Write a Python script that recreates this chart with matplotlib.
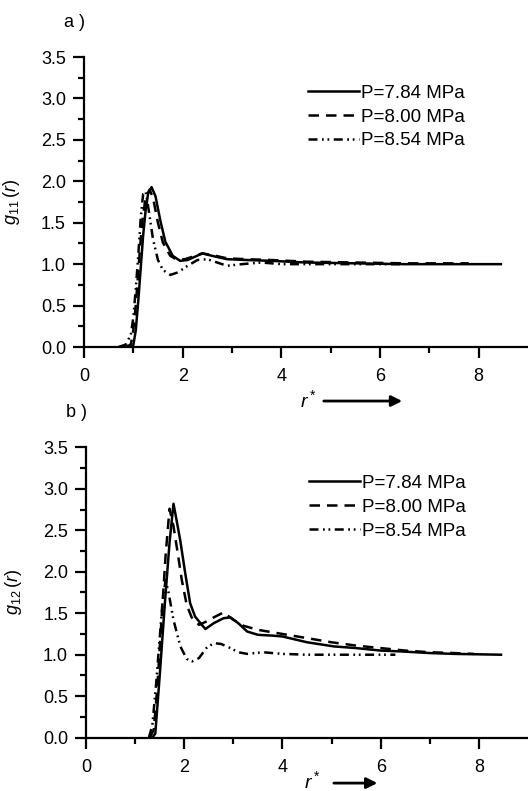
import matplotlib
matplotlib.use('Agg')
import matplotlib.pyplot as plt

plt.rcParams['font.family'] = ['Liberation Sans', 'DejaVu Sans']
plt.rcParams['mathtext.fontset'] = 'custom'
plt.rcParams['mathtext.rm'] = 'Liberation Sans'
plt.rcParams['mathtext.it'] = 'Liberation Sans:italic'

labels = ['P=7.84 MPa', 'P=8.00 MPa', 'P=8.54 MPa']

# panel a : g11(r)
r_a_784 = [0.95, 1.0, 1.05, 1.1, 1.15, 1.2, 1.25, 1.3, 1.37, 1.45, 1.55, 1.65, 1.8, 1.95, 2.1, 2.25,
           2.4, 2.6, 2.9, 3.3, 3.8, 4.5, 5.5, 6.5, 7.5, 8.45]
g_a_784 = [0.0, 0.02, 0.2, 0.55, 0.95, 1.35, 1.65, 1.85, 1.93, 1.82, 1.52, 1.27, 1.1, 1.04, 1.05, 1.09,
           1.13, 1.1, 1.06, 1.05, 1.04, 1.02, 1.01, 1.0, 1.0, 1.0]
r_a_800 = [0.85, 0.95, 1.0, 1.05, 1.1, 1.15, 1.2, 1.25, 1.33, 1.4, 1.5, 1.6, 1.75, 1.9, 2.05, 2.2,
           2.4, 2.6, 2.9, 3.3, 3.8, 4.5, 5.5, 6.5, 7.8]
g_a_800 = [0.0, 0.03, 0.2, 0.5, 0.9, 1.3, 1.6, 1.8, 1.9, 1.8, 1.5, 1.26, 1.1, 1.05, 1.06, 1.09,
           1.13, 1.11, 1.07, 1.06, 1.05, 1.03, 1.02, 1.01, 1.01]
r_a_854 = [0.7, 0.85, 0.95, 1.0, 1.05, 1.1, 1.15, 1.2, 1.25, 1.3, 1.4, 1.5, 1.6, 1.75, 1.9, 2.1,
           2.3, 2.5, 2.7, 2.9, 3.2, 3.6, 4.0, 5.0, 6.0, 6.5]
g_a_854 = [0.0, 0.03, 0.15, 0.35, 0.7, 1.1, 1.55, 1.85, 1.88, 1.7, 1.3, 1.05, 0.93, 0.87, 0.9, 0.98,
           1.05, 1.06, 1.02, 0.98, 1.0, 1.02, 1.0, 1.0, 1.0, 1.0]

# panel b : g12(r)
r_b_784 = [1.35, 1.41, 1.5, 1.61, 1.7, 1.78, 1.85, 1.92, 2.02, 2.12, 2.22, 2.33, 2.43, 2.6, 2.8,
           2.94, 3.1, 3.28, 3.5, 3.8, 4.0, 4.5, 5.05, 5.5, 6.0, 6.4, 7.0, 7.5, 8.45]
g_b_784 = [0.0, 0.05, 0.75, 1.66, 2.35, 2.82, 2.6, 2.37, 1.98, 1.62, 1.46, 1.38, 1.31, 1.38, 1.44,
           1.45, 1.38, 1.28, 1.24, 1.23, 1.22, 1.15, 1.1, 1.08, 1.05, 1.04, 1.02, 1.01, 1.0]
r_b_800 = [1.3, 1.38, 1.45, 1.55, 1.62, 1.7, 1.78, 1.86, 1.95, 2.05, 2.15, 2.3, 2.45, 2.6, 2.8,
           3.0, 3.2, 3.5, 3.8, 4.0, 4.5, 5.0, 5.5, 6.0, 6.5, 7.0, 7.5, 7.9]
g_b_800 = [0.0, 0.1, 0.6, 1.55, 2.2, 2.76, 2.55, 2.25, 1.9, 1.6, 1.45, 1.36, 1.4, 1.45, 1.51,
           1.42, 1.35, 1.3, 1.27, 1.25, 1.2, 1.15, 1.11, 1.08, 1.05, 1.03, 1.02, 1.01]
r_b_854 = [1.28, 1.35, 1.42, 1.5, 1.56, 1.62, 1.68, 1.78, 1.92, 2.05, 2.16, 2.3, 2.45, 2.6, 2.75,
           2.94, 3.1, 3.28, 3.6, 4.0, 4.5, 5.0, 5.5, 6.0, 6.3]
g_b_854 = [0.0, 0.15, 0.6, 1.2, 1.65, 1.9, 1.75, 1.42, 1.1, 0.95, 0.92, 0.96, 1.08, 1.14, 1.13,
           1.08, 1.03, 1.01, 1.03, 1.01, 1.0, 1.0, 1.0, 1.0, 1.0]

styles = ['-', (0, (4.2, 2.8)), (0, (3.6, 1.8, 0.7, 1.5, 0.7, 1.8))]

fig = plt.figure(figsize=(5.28, 7.91), dpi=100)
ax_a = fig.add_axes([0.159, 0.5613, 0.841, 0.3666])
ax_b = fig.add_axes([0.163, 0.0674, 0.837, 0.3671])

panels = [
	(ax_a, [(r_a_784, g_a_784), (r_a_800, g_a_800), (r_a_854, g_a_854)], r'$g_{\mathrm{11}}\,(r)$'),
	(ax_b, [(r_b_784, g_b_784), (r_b_800, g_b_800), (r_b_854, g_b_854)], r'$g_{\mathrm{12}}\,(r)$'),
]

for ax, series, ylab in panels:
	for (r, g), ls, lab in zip(series, styles, labels):
		ax.plot(r, g, color='black', lw=1.8, linestyle=ls, label=lab)
	ax.set_xlim(0, 9)
	ax.set_ylim(0, 3.5)
	ax.set_xticks([0, 2, 4, 6, 8])
	ax.set_xticks([1, 3, 5, 7], minor=True)
	ax.set_yticks([0, 0.5, 1.0, 1.5, 2.0, 2.5, 3.0, 3.5])
	ax.set_yticklabels(['0.0', '0.5', '1.0', '1.5', '2.0', '2.5', '3.0', '3.5'])
	ax.set_yticks([0.25, 0.75, 1.25, 1.75, 2.25, 2.75, 3.25], minor=True)
	ax.spines['top'].set_visible(False)
	ax.spines['right'].set_visible(False)
	ax.spines['left'].set_linewidth(1.6)
	ax.spines['bottom'].set_linewidth(1.6)
	ax.tick_params(which='major', direction='out', length=8, width=1.6, labelsize=13, pad=5)
	ax.tick_params(axis='x', which='major', pad=7)
	ax.tick_params(which='minor', direction='out', length=4, width=1.6)
	ax.set_ylabel(ylab, fontsize=13)
	ax.yaxis.set_label_coords(-0.14, 0.5)
	ax.legend(loc='upper left', bbox_to_anchor=(0.505, 0.905), frameon=False, fontsize=13.5,
	          handlelength=2.7, handletextpad=0.1, labelspacing=0.36, borderpad=0, borderaxespad=0)

fig.text(0.121, 0.971, 'a )', fontsize=13, va='center')
fig.text(0.125, 0.479, 'b )', fontsize=13, va='center')

# r* with arrow
fig.text(0.585, 0.494, r'$r^*$', fontsize=14, ha='center', va='center')
fig.add_artist(matplotlib.patches.FancyArrowPatch((0.608, 0.493), (0.767, 0.493), transform=fig.transFigure,
               arrowstyle='-|>', mutation_scale=16, lw=2, color='black'))
fig.text(0.591, 0.013, r'$r^*$', fontsize=14, ha='center', va='center')
fig.add_artist(matplotlib.patches.FancyArrowPatch((0.627, 0.01), (0.72, 0.01), transform=fig.transFigure,
               arrowstyle='-|>', mutation_scale=16, lw=2, color='black'))

fig.savefig('out.png', dpi=100)
